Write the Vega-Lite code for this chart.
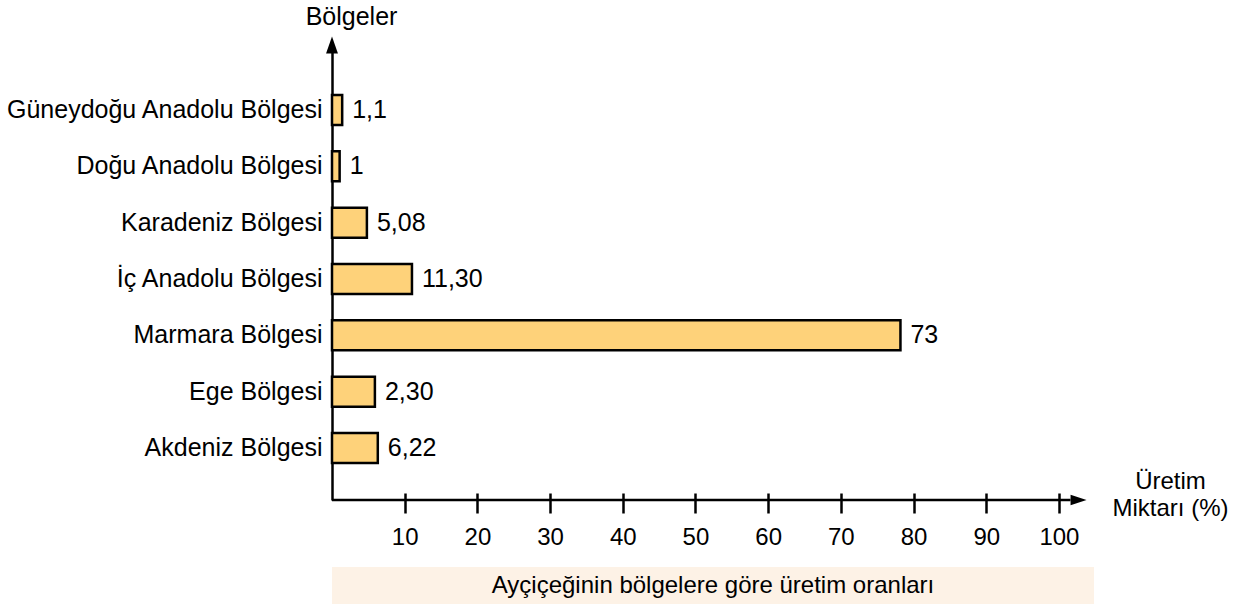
{
  "$schema": "https://vega.github.io/schema/vega-lite/v6.json",
  "background": "white",
  "padding": {"left": 5, "top": 4, "right": 0, "bottom": 0},
  "config": {
    "view": {"stroke": null},
    "font": "Liberation Sans",
    "concat": {"spacing": 18}
  },
  "vconcat": [
    {
      "width": 756,
      "height": 455,
      "data": {
        "values": [
          {"bolge": "Güneydoğu Anadolu Bölgesi", "deger": 1.4, "etiket": "1,1"},
          {"bolge": "Doğu Anadolu Bölgesi", "deger": 1.05, "etiket": "1"},
          {"bolge": "Karadeniz Bölgesi", "deger": 4.8, "etiket": "5,08"},
          {"bolge": "İç Anadolu Bölgesi", "deger": 11.0, "etiket": "11,30"},
          {"bolge": "Marmara Bölgesi", "deger": 78.2, "etiket": "73"},
          {"bolge": "Ege Bölgesi", "deger": 5.9, "etiket": "2,30"},
          {"bolge": "Akdeniz Bölgesi", "deger": 6.3, "etiket": "6,22"}
        ]
      },
      "layer": [
        {
          "mark": {"type": "bar", "fill": "#fed27a", "stroke": "black", "strokeWidth": 2.5},
          "encoding": {
            "y": {
              "field": "bolge", "type": "nominal", "sort": null,
              "scale": {"paddingInner": 0.4675, "paddingOuter": 0.772, "align": 0.575},
              "axis": {
                "title": "Bölgeler", "titleAngle": 0, "titleAlign": "center", "titleBaseline": "alphabetic",
                "titleX": 19, "titleY": -21, "titleFontSize": 25, "titleFontWeight": "normal", "titleColor": "black",
                "labelFontSize": 25, "labelColor": "black", "labelPadding": 10, "labelLimit": 0,
                "ticks": false, "domainColor": "black", "domainWidth": 2.5
              }
            },
            "x": {
              "field": "deger", "type": "quantitative",
              "scale": {"domain": [0, 104], "nice": false},
              "axis": {
                "values": [10, 20, 30, 40, 50, 60, 70, 80, 90, 100],
                "offset": -7, "tickSize": 20, "tickColor": "black", "tickWidth": 2.5,
                "domain": false, "grid": false,
                "labelFontSize": 24, "labelColor": "black", "labelPadding": 12, "labelFlush": false,
                "title": ["Üretim", "Miktarı (%)"], "titleX": 838, "titleY": -5,
                "titleAlign": "center", "titleBaseline": "alphabetic", "titleFontSize": 24,
                "titleFontWeight": "normal", "titleColor": "black", "titleLineHeight": 27
              }
            }
          }
        },
        {
          "mark": {"type": "text", "align": "left", "baseline": "middle", "dx": 10, "fontSize": 25, "color": "black"},
          "encoding": {
            "y": {"field": "bolge", "type": "nominal", "sort": null},
            "x": {"field": "deger", "type": "quantitative"},
            "text": {"field": "etiket"}
          }
        },
        {
          "data": {"values": [{"eksen": "x"}]},
          "mark": {"type": "rule", "stroke": "black", "strokeWidth": 2.5},
          "encoding": {
            "x": {"datum": 0},
            "x2": {"datum": 101.6},
            "y": {"value": "height"}
          }
        },
        {
          "data": {"values": [{"eksen": "x"}]},
          "mark": {"type": "point", "shape": "M1,0L-1,-0.65L-1,0.65Z", "filled": true, "fill": "black", "stroke": null, "size": 256, "opacity": 1},
          "encoding": {
            "x": {"datum": 102.7},
            "y": {"value": "height"}
          }
        },
        {
          "data": {"values": [{"eksen": "y"}]},
          "mark": {"type": "point", "shape": "M0,-1L0.7,1L-0.7,1Z", "filled": true, "fill": "black", "stroke": null, "size": 289, "opacity": 1},
          "encoding": {
            "x": {"datum": 0},
            "y": {"value": 0}
          }
        }
      ]
    },
    {
      "width": 762,
      "height": 37,
      "view": {"fill": "#fdf2e6", "stroke": null},
      "data": {"values": [{"baslik": "Ayçiçeğinin bölgelere göre üretim oranları"}]},
      "mark": {"type": "text", "fontSize": 24, "baseline": "middle", "color": "black"},
      "encoding": {"text": {"field": "baslik"}}
    }
  ]
}
